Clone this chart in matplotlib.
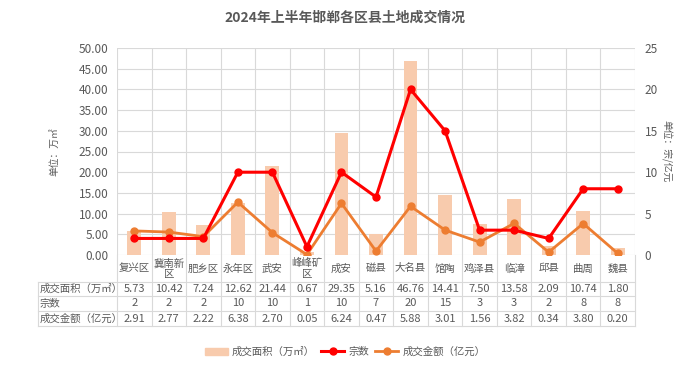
import matplotlib
matplotlib.use("Agg")
import matplotlib.pyplot as plt
import matplotlib.transforms as mtransforms
from matplotlib.lines import Line2D
from matplotlib.patches import Patch
import numpy as np

plt.rcParams['font.family'] = ['Noto Sans CJK SC', 'DejaVu Sans']

# data
districts = ["复兴区", "冀南新\n区", "肥乡区", "永年区", "武安", "峰峰矿\n区", "成安", "磁县",
             "大名县", "馆陶", "鸡泽县", "临漳", "邱县", "曲周", "魏县"]
area = [5.73, 10.42, 7.24, 12.62, 21.44, 0.67, 29.35, 5.16, 46.76, 14.41, 7.50, 13.58, 2.09, 10.74, 1.80]
deals = [2, 2, 2, 10, 10, 1, 10, 7, 20, 15, 3, 3, 2, 8, 8]
amount = [2.91, 2.77, 2.22, 6.38, 2.70, 0.05, 6.24, 0.47, 5.88, 3.01, 1.56, 3.82, 0.34, 3.80, 0.20]
row_names = ["成交面积（万㎡）", "宗数", "成交金额（亿元）"]

bar_color = "#F8CBAD"
red = "#FF0000"
orange = "#ED7D31"
grid_c = "#D9D9D9"
txt_c = "#595959"

W, H = 689, 371
fig = plt.figure(figsize=(W / 100, H / 100), dpi=100)
ax = fig.add_axes([117 / W, 1 - 255 / H, (635 - 117) / W, (255 - 48) / H])
ax2 = ax.twinx()

n = len(districts)
x = np.arange(n)
ax.bar(x, area, width=0.4, color=bar_color, zorder=2)
ax.set_xlim(-0.5, n - 0.5)
ax.set_ylim(0, 50)
ax.set_yticks(np.arange(0, 50.01, 5))
ax.set_yticklabels([f"{v:.2f}" for v in np.arange(0, 50.01, 5)])
ax.set_xticks([])
ax.grid(axis="y", color=grid_c, lw=0.8, zorder=0)
for b in np.arange(-0.5, n, 1.0):
    ax.axvline(b, color=grid_c, lw=0.8, zorder=0)

ax2.plot(x, deals, color=red, lw=2.2, marker="o", ms=5, zorder=4)
ax2.plot(x, amount, color=orange, lw=2.0, marker="o", ms=5, zorder=3)
ax2.set_ylim(0, 25)
ax2.set_yticks(np.arange(0, 26, 5))

for a in (ax, ax2):
    for s in a.spines.values():
        s.set_visible(False)
    a.tick_params(length=0, labelsize=8.5, colors=txt_c)
ax.tick_params(axis="y", pad=6)
ax2.tick_params(axis="y", pad=7)

ax.set_ylabel("单位：万㎡", fontsize=7, color=txt_c, labelpad=14)
ax2.set_ylabel("单位：宗/亿元", fontsize=7, color=txt_c, rotation=270, labelpad=10)

fig.text(0.5, 1 - 18 / H, "2024年上半年邯郸各区县土地成交情况", ha="center", va="center",
         fontsize=10, fontweight="bold", color=txt_c)

# data table below the plot
tr = mtransforms.blended_transform_factory(ax.transData, fig.transFigure)
def fy(py):
    return 1 - py / H
rows_y = [255, 282, 296, 311, 326]
for b in np.arange(-0.5, n, 1.0):
    ax.plot([b, b], [fy(255), fy(326)], transform=tr, color=grid_c, lw=0.8, clip_on=False)
left_px = 38
xl = ax.transData.inverted().transform((fig.transFigure.transform((left_px / W, 0))[0], 0))[0]
for ry in rows_y[1:]:
    ax.plot([xl, n - 0.5], [fy(ry), fy(ry)], transform=tr, color=grid_c, lw=0.8, clip_on=False)
ax.plot([xl, xl], [fy(282), fy(326)], transform=tr, color=grid_c, lw=0.8, clip_on=False)

for i, name in enumerate(districts):
    ax.text(i, fy((255 + 282) / 2), name, transform=tr, ha="center", va="center",
            fontsize=7.5, color=txt_c, linespacing=1.1)
    ax.text(i, fy((282 + 296) / 2), f"{area[i]:.2f}", transform=tr, ha="center", va="center",
            fontsize=8, color=txt_c)
    ax.text(i, fy((296 + 311) / 2), f"{deals[i]}", transform=tr, ha="center", va="center",
            fontsize=8, color=txt_c)
    ax.text(i, fy((311 + 326) / 2), f"{amount[i]:.2f}", transform=tr, ha="center", va="center",
            fontsize=8, color=txt_c)
for k, rn in enumerate(row_names):
    fig.text((left_px + 2) / W, fy((rows_y[k + 1] + rows_y[k + 2]) / 2), rn, ha="left", va="center",
             fontsize=7.5, color=txt_c)

handles = [Patch(color=bar_color, label="成交面积（万㎡）"),
           Line2D([], [], color=red, lw=2.2, marker="o", ms=5, label="宗数"),
           Line2D([], [], color=orange, lw=2.0, marker="o", ms=5, label="成交金额（亿元）")]
leg = fig.legend(handles=handles, loc="center", bbox_to_anchor=(345 / W, fy(352)), ncol=3,
                 frameon=False, fontsize=7.5, handlelength=2.2, columnspacing=0.6, handletextpad=0.4)
for t in leg.get_texts():
    t.set_color(txt_c)

fig.savefig("out.png", dpi=100)
